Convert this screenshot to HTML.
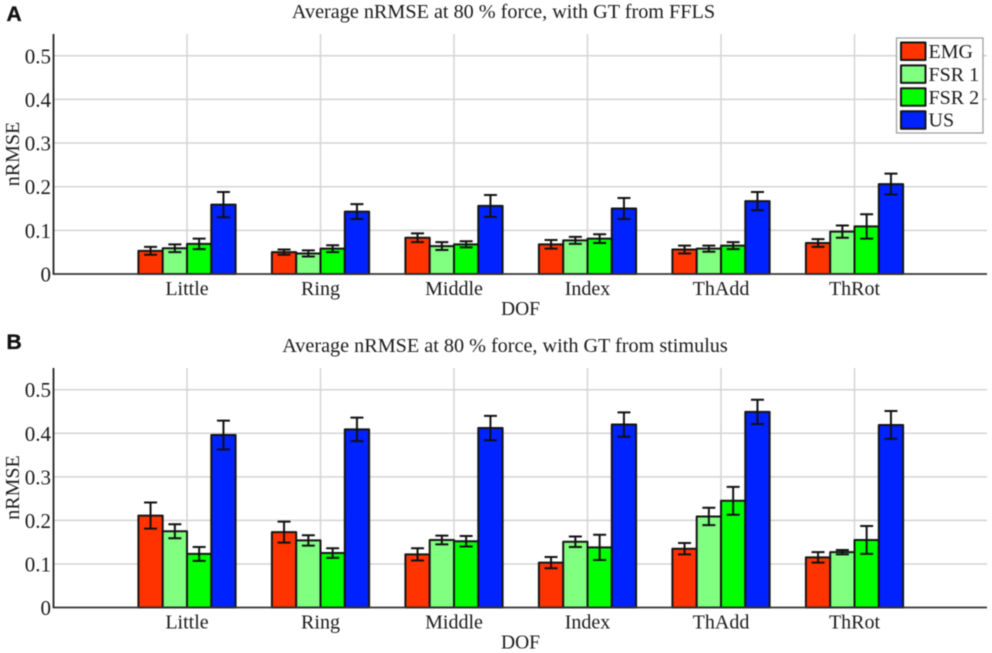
<!DOCTYPE html>
<html lang="en">
<head>
<meta charset="utf-8">
<title>Average nRMSE at 80 % force</title>
<style>
html,body{margin:0;padding:0;background:#fff;}
body{width:992px;height:653px;overflow:hidden;}
svg{display:block;filter:blur(0.4px);}
text{font-family:"Liberation Serif",serif;fill:#1a1a1a;}
text.tag{font-family:"Liberation Sans",sans-serif;font-weight:bold;fill:#111;stroke:#111;stroke-width:0.35px;}
</style>
</head>
<body>
<svg id="chart" xmlns="http://www.w3.org/2000/svg" width="992" height="653" viewBox="0 0 992 653"></svg>
<script>
const categories = ["Little", "Ring", "Middle", "Index", "ThAdd", "ThRot"];
const seriesNames = ["EMG", "FSR 1", "FSR 2", "US"];
const tickValues = [0, 0.1, 0.2, 0.3, 0.4, 0.5];
const tickLabels = ["0", "0.1", "0.2", "0.3", "0.4", "0.5"];

const panelAValues = [
  [0.053, 0.050, 0.083, 0.068, 0.056, 0.071],
  [0.059, 0.047, 0.064, 0.077, 0.058, 0.097],
  [0.069, 0.058, 0.068, 0.081, 0.065, 0.109],
  [0.159, 0.143, 0.156, 0.150, 0.167, 0.206]
];
const panelAErrors = [
  [0.009, 0.006, 0.010, 0.010, 0.009, 0.009],
  [0.009, 0.007, 0.009, 0.008, 0.007, 0.014],
  [0.012, 0.008, 0.007, 0.010, 0.008, 0.028],
  [0.029, 0.017, 0.025, 0.024, 0.021, 0.024]
];
const panelBValues = [
  [0.211, 0.173, 0.122, 0.103, 0.135, 0.115],
  [0.175, 0.154, 0.155, 0.151, 0.209, 0.127],
  [0.123, 0.125, 0.152, 0.138, 0.245, 0.155],
  [0.396, 0.409, 0.412, 0.420, 0.449, 0.419]
];
const panelBErrors = [
  [0.030, 0.024, 0.014, 0.013, 0.013, 0.012],
  [0.016, 0.012, 0.010, 0.012, 0.020, 0.005],
  [0.016, 0.011, 0.012, 0.029, 0.032, 0.032],
  [0.033, 0.027, 0.028, 0.028, 0.028, 0.032]
];

const colors = ["#ff3300", "#80ff80", "#00ff00", "#0022ff"];
const svg = document.getElementById("chart");
const NS = "http://www.w3.org/2000/svg";

function mk(tag, attrs, parent, txt) {
  const el = document.createElementNS(NS, tag);
  for (const k in attrs) el.setAttribute(k, attrs[k]);
  if (txt !== undefined) el.textContent = txt;
  parent.appendChild(el);
  return el;
}

function drawPanel(cfg) {
  const g = mk("g", {}, svg);
  
  

  const left = 53.5, right = 987, firstX = 187, step = 133.5, barW = 24.3;
  const y = v => cfg.y0 - v * cfg.unit;
  const xc = i => firstX + i * step;

  const tag = mk("text", {x: 6.5, y: cfg.tagY, "font-size": 21, class: "tag"}, g, cfg.tag);
  
  

  const title = mk("text", {x: cfg.titleX, y: cfg.titleY, "font-size": 20.2, "text-anchor": "middle"}, g, cfg.title);
  
  

  tickValues.forEach((v, i) => {
    if (v > 0) {
      const grid = mk("line", {x1: left, x2: right, y1: y(v), y2: y(v), stroke: "#d4d4d4", "stroke-width": 1.5}, g);
      
      
    }
    const lab = mk("text", {x: 51, y: y(v) + 7.5, "font-size": 21, "text-anchor": "end"}, g, tickLabels[i]);
    
    
  });

  categories.forEach((c, i) => {
    const grid = mk("line", {x1: xc(i), x2: xc(i), y1: cfg.top, y2: cfg.y0, stroke: "#d4d4d4", "stroke-width": 1.5}, g);
    
    
    const lab = mk("text", {x: xc(i), y: cfg.y0 + 21, "font-size": 20, "text-anchor": "middle"}, g, c);
    
    
  });

  cfg.values.forEach((vals, s) => {
    vals.forEach((v, i) => {
      const bx = xc(i) - 2 * barW + s * barW;
      const bar = mk("rect", {x: bx, y: y(v), width: barW, height: y(0) - y(v), fill: colors[s], stroke: "#141414", "stroke-width": 2, "stroke-linejoin": "round"}, g);
      
      
    });
  });

  cfg.values.forEach((vals, s) => {
    vals.forEach((v, i) => {
      const cx = xc(i) - 2 * barW + (s + 0.5) * barW;
      const e = cfg.errors[s][i];
      const err = mk("path", {
        d: "M" + (cx - 6.5) + " " + y(v + e) + "H" + (cx + 6.5) +
           "M" + cx + " " + y(v + e) + "V" + y(v - e) +
           "M" + (cx - 6.5) + " " + y(v - e) + "H" + (cx + 6.5),
        fill: "none", stroke: "#111", "stroke-width": 2
      }, g);
      
      
    });
  });

  const yAxis = mk("line", {x1: left, x2: left, y1: cfg.top, y2: cfg.y0 + 0.7, stroke: "#222", "stroke-width": 1.8}, g);
  
  
  const xAxis = mk("line", {x1: left, x2: right, y1: cfg.y0, y2: cfg.y0, stroke: "#333", "stroke-width": 1.8}, g);
  
  

  const xt = mk("text", {x: 520.5, y: cfg.y0 + 41, "font-size": 19.5, "text-anchor": "middle"}, g, "DOF");
  
  
  const yt = mk("text", {transform: "translate(19 " + (cfg.y0 - 120) + ") rotate(-90)", "font-size": 20, "text-anchor": "middle"}, g, "nRMSE");
  
  
}

drawPanel({id: "a", tag: "A", tagY: 21, title: "Average nRMSE at 80 % force, with GT from FFLS", titleX: 503.5, titleY: 18,
  y0: 274, unit: 436.5, top: 34, values: panelAValues, errors: panelAErrors});
drawPanel({id: "b", tag: "B", tagY: 349, title: "Average nRMSE at 80 % force, with GT from stimulus", titleX: 505, titleY: 352,
  y0: 607.5, unit: 435.6, top: 368, values: panelBValues, errors: panelBErrors});

const legend = mk("g", {}, svg);


const legendBox = mk("rect", {x: 896.5, y: 38, width: 86.5, height: 95, fill: "#fff", stroke: "#999", "stroke-width": 1.2}, legend);


seriesNames.forEach((n, i) => {
  const sy = 42.5 + i * 22.9;
  const sw = mk("rect", {x: 901, y: sy, width: 24.5, height: 17.5, fill: colors[i], stroke: "#141414", "stroke-width": 2, "stroke-linejoin": "round"}, legend);
  
  
  const t = mk("text", {x: 928.5, y: sy + 15.5, "font-size": 20}, legend, n);
  
  
});
</script>
</body>
</html>
